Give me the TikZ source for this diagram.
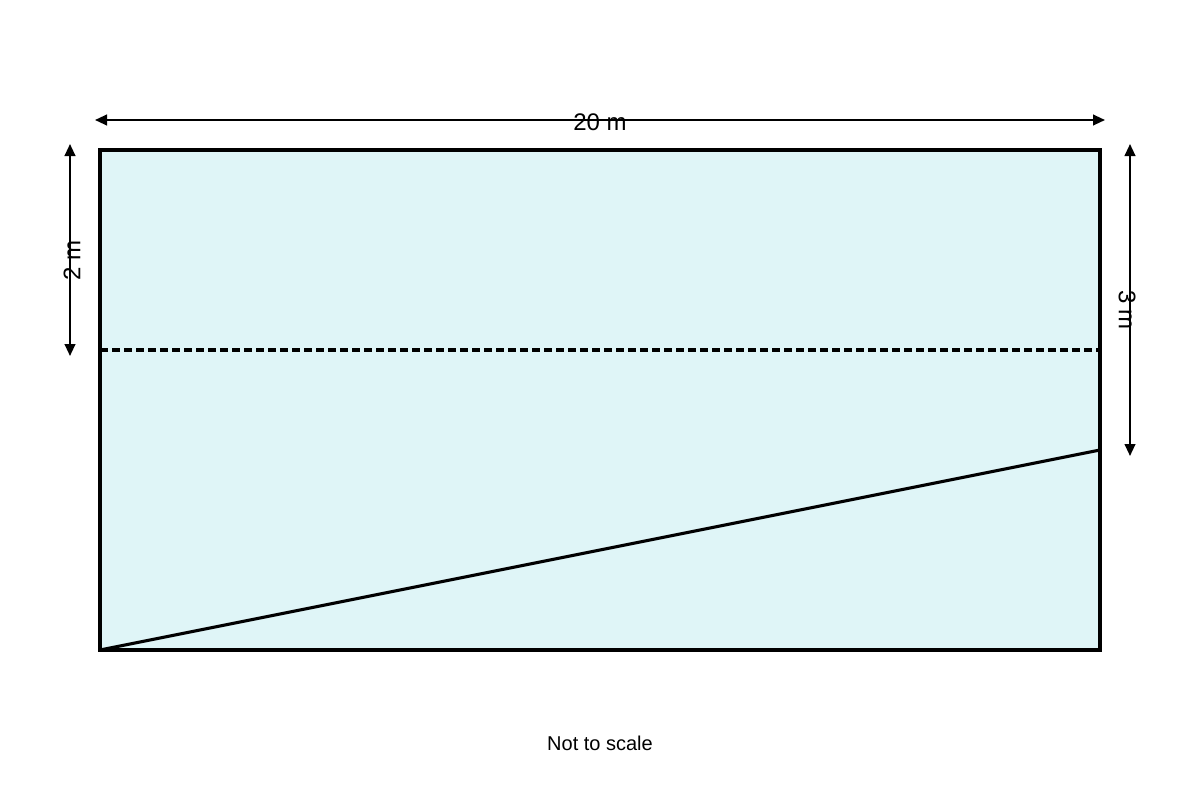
\documentclass[tikz,border=0pt]{standalone}
\usepackage{fontspec}
\setmainfont{Liberation Sans}
\usetikzlibrary{arrows.meta}
\definecolor{poolfill}{HTML}{DFF5F7}
\begin{document}
\begin{tikzpicture}[x=0.75pt,y=-0.75pt,
  dim/.style={line width=1.5pt,{Triangle[length=9pt,width=8pt]}-{Triangle[length=9pt,width=8pt]}},
  edge/.style={line width=2.3pt},
  lbl/.style={font=\fontsize{18}{20}\selectfont,inner sep=0pt}]
\useasboundingbox (0,0) rectangle (1200,800);
\coordinate (tl) at (100,150);
\coordinate (tr) at (1100,150);
\coordinate (bl) at (100,650);
\coordinate (br) at (1100,650);
\coordinate (dl) at (100,350);
\coordinate (dr) at (1100,350);
\coordinate (sr) at (1100,450);
\fill[poolfill] (tl) rectangle (br);
\draw[line width=2.3pt,dash pattern=on 6pt off 3pt] (dl) -- (dr);
\draw[edge] (bl) -- (sr);
\draw[line width=2.3pt,line join=miter] (tl) rectangle (br);
% dimension arrows
\coordinate (a1) at (95,120);
\coordinate (a2) at (1105,120);
\draw[dim] (a1) -- (a2);
\node[lbl] (w) at (600,122) {20 m};
\coordinate (b1) at (70,144);
\coordinate (b2) at (70,356);
\draw[dim] (b1) -- (b2);
\node[lbl,rotate=90] (h2) at (72,260) {2 m};
\coordinate (c1) at (1130,144);
\coordinate (c2) at (1130,456);
\draw[dim] (c1) -- (c2);
\node[lbl,rotate=-90] (h3) at (1127,310) {3 m};
\node[font=\fontsize{15}{17}\selectfont,inner sep=0pt] (note) at (600,743) {Not to scale};
\end{tikzpicture}
\end{document}
